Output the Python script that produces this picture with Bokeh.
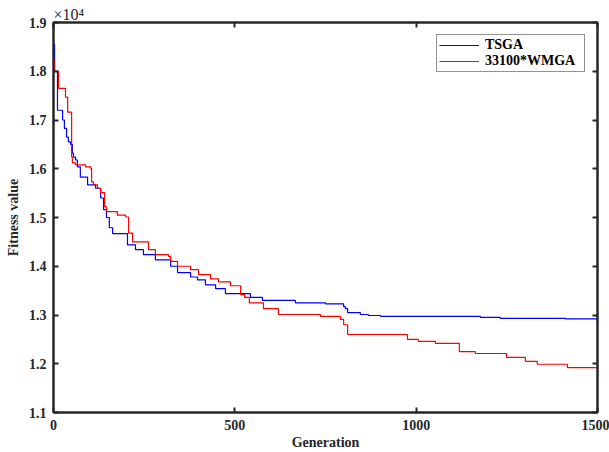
from bokeh.plotting import figure
from bokeh.models import (LinearAxis, Range1d, FixedTicker, Legend, LegendItem,
                          CustomJSTickFormatter, ColumnDataSource, Title)
from bokeh.embed import file_html
from bokeh.resources import INLINE

# ---- data (fitness values, actual units; axis shows x10^4) ----
tsga_gen = [0, 3, 11, 25, 30, 36, 41, 47, 52, 55, 61, 66, 74, 94, 116, 130, 138, 146, 154, 163,
            204, 226, 248, 281, 323, 342, 378, 397, 419, 447, 474, 543, 576, 667, 750, 800, 805,
            811, 846, 868, 902, 1177, 1232, 1412, 1500]
tsga_fit = [18550, 18000, 17200, 17000, 16830, 16650, 16550, 16500, 16320, 16240, 16180, 16040,
            15830, 15670, 15600, 15400, 15160, 15000, 14790, 14670, 14440, 14340, 14240, 14130,
            14000, 13870, 13780, 13720, 13620, 13540, 13440, 13360, 13300, 13250, 13230, 13170,
            13130, 13050, 13010, 12990, 12970, 12950, 12930, 12920, 12920]

wmga_gen = [0, 3, 14, 33, 39, 50, 52, 61, 88, 102, 105, 110, 121, 130, 141, 146, 176, 199, 207,
            218, 262, 281, 317, 323, 342, 378, 400, 433, 455, 488, 516, 527, 540, 579, 620, 736,
            791, 800, 811, 976, 1006, 1053, 1119, 1163, 1249, 1301, 1334, 1417, 1500]
wmga_fit = [18220, 18000, 17650, 17470, 17160, 16240, 16120, 16080, 16040, 16010, 15730, 15670,
            15600, 15510, 15220, 15120, 15050, 15010, 14680, 14500, 14340, 14240, 14200, 14100,
            14000, 13930, 13830, 13740, 13680, 13600, 13420, 13360, 13250, 13130, 13010, 12970,
            12910, 12800, 12600, 12500, 12460, 12420, 12250, 12210, 12130, 12050, 11990, 11920,
            11910]

x_ticks = [0, 500, 1000, 1500]
y_ticks = [1.1, 1.2, 1.3, 1.4, 1.5, 1.6, 1.7, 1.8, 1.9]
series_names = ["TSGA", "33100*WMGA"]
series_colors = ["#0000ff", "#ff0000"]

FONT = "Liberation Serif"
INK = "#262626"

p = figure(width=609, height=452, output_backend="svg", toolbar_location=None,
           x_range=Range1d(0, 1500), y_range=Range1d(1.1, 1.9),
           min_border_left=53, min_border_right=12, min_border_top=22, min_border_bottom=39)
p.xgrid.visible = False
p.ygrid.visible = False
p.outline_line_color = INK
p.outline_line_width = 2

src1 = ColumnDataSource(dict(x=tsga_gen, y=[v / 1e4 for v in tsga_fit]))
src2 = ColumnDataSource(dict(x=wmga_gen, y=[v / 1e4 for v in wmga_fit]))
r1 = p.step("x", "y", source=src1, mode="after", line_color=series_colors[0], line_width=1.2)
r2 = p.step("x", "y", source=src2, mode="after", line_color=series_colors[1], line_width=1.2)

def style_axis(ax, labels=True):
    ax.axis_line_color = INK
    ax.axis_line_width = 2
    ax.major_tick_in = 5
    ax.major_tick_out = 0
    ax.minor_tick_in = 0
    ax.minor_tick_out = 0
    ax.major_tick_line_color = INK
    ax.major_tick_line_width = 2
    ax.major_label_text_font = FONT
    ax.major_label_text_font_style = "bold"
    ax.major_label_text_font_size = "14px"
    ax.major_label_text_color = INK
    ax.major_label_standoff = 7
    ax.axis_label_text_font = FONT
    ax.axis_label_text_font_style = "bold"
    ax.axis_label_text_font_size = "14px"
    ax.axis_label_text_color = INK
    ax.axis_label_standoff = 2
    if not labels:
        ax.formatter = CustomJSTickFormatter(code="return ''")
        ax.major_label_standoff = 0

p.xaxis.ticker = FixedTicker(ticks=x_ticks)
p.yaxis.ticker = FixedTicker(ticks=y_ticks)
p.xaxis.axis_label = "Generation"
p.yaxis.axis_label = "Fitness value"
style_axis(p.xaxis[0])
style_axis(p.yaxis[0])
p.yaxis[0].axis_label_standoff = 5

top = LinearAxis(ticker=FixedTicker(ticks=x_ticks))
right = LinearAxis(ticker=FixedTicker(ticks=y_ticks))
style_axis(top, labels=False)
style_axis(right, labels=False)
p.add_layout(top, "above")
p.add_layout(right, "right")

# exponent note above the y axis
p.title = Title(text="×10⁴", text_font=FONT, text_font_size="16px", text_font_style="normal",
                text_color=INK, align="left", offset=0, standoff=0)

legend = Legend(items=[LegendItem(label=series_names[0], renderers=[r1]),
                       LegendItem(label=series_names[1], renderers=[r2])],
                location="top_right")
legend.margin = 12
legend.padding = 2
legend.spacing = 0
legend.glyph_width = 40
legend.glyph_height = 16
legend.label_height = 16
legend.label_width = 97
legend.label_standoff = 6
legend.label_text_font = FONT
legend.label_text_font_style = "bold"
legend.label_text_font_size = "14px"
legend.label_text_color = "#000000"
legend.border_line_color = INK
legend.border_line_width = 1
legend.background_fill_alpha = 1
p.add_layout(legend)

open("out.html", "w").write(file_html(p, INLINE))
